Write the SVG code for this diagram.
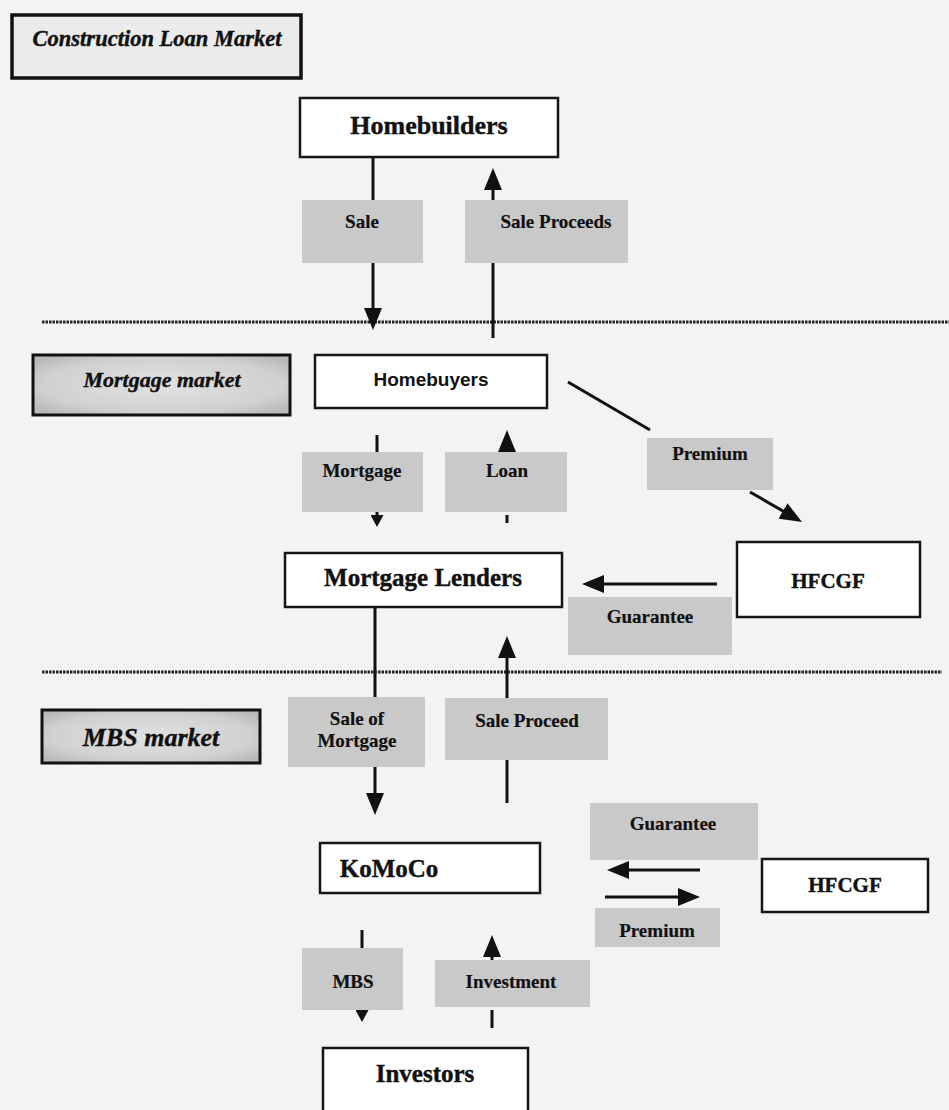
<svg xmlns="http://www.w3.org/2000/svg" width="949" height="1110" viewBox="0 0 949 1110">
<defs>
<radialGradient id="mkt" cx="50%" cy="50%" r="62%">
<stop offset="0" stop-color="#e2e2e2"/>
<stop offset="0.75" stop-color="#d0d0d0"/>
<stop offset="1" stop-color="#bababa"/>
</radialGradient>
<marker id="ah" markerUnits="userSpaceOnUse" markerWidth="22" markerHeight="18" refX="4" refY="9" orient="auto">
<path d="M0,0 L22,9 L0,18 z" fill="#111"/>
</marker>
<marker id="ahs" markerUnits="userSpaceOnUse" markerWidth="12" markerHeight="13" refX="2" refY="6.5" orient="auto">
<path d="M0,0 L12,6.5 L0,13 z" fill="#111"/>
</marker>
</defs>
<style>
.bg{fill:#f3f3f3}
.mkt{fill:url(#mkt);stroke:#111;stroke-width:3}
.node{fill:#fff;stroke:#151515;stroke-width:2.5}
.lbl{fill:#c9c9c9}
.sep{stroke:#222;stroke-width:3;stroke-dasharray:2.5 1;fill:none}
.ln{stroke:#111;stroke-width:3;fill:none}
.ar{stroke:#111;stroke-width:3;fill:none;marker-end:url(#ah)}
.ars{stroke:#111;stroke-width:3;fill:none;marker-end:url(#ahs)}
.mt{font-family:"Liberation Serif","Times New Roman",serif;font-weight:bold;font-style:italic;fill:#111;stroke:#111;stroke-width:0.4;text-anchor:middle}
.nt{font-family:"Liberation Serif","Times New Roman",serif;font-weight:bold;fill:#111;stroke:#111;stroke-width:0.4;text-anchor:middle}
.st{font-family:"Liberation Sans",Arial,sans-serif;font-weight:bold;fill:#111;text-anchor:middle}
.lt{font-family:"Liberation Serif","Times New Roman",serif;font-weight:bold;font-size:19px;fill:#111;stroke:#111;stroke-width:0.2;text-anchor:middle}
</style>
<rect class="bg" x="0" y="0" width="949" height="1110"/>

<g id="separators">
<line class="sep" x1="42" y1="322" x2="949" y2="322"/>
<line class="sep" x1="42" y1="672" x2="942" y2="672"/>
</g>

<g id="market-construction">
<rect x="12" y="15" width="289" height="63" fill="#ebebeb" stroke="#111" stroke-width="3.5"/>
<text class="mt" x="157" y="46" font-size="22.5px">Construction Loan Market</text>
</g>
<g id="market-mortgage">
<rect class="mkt" x="33" y="355" width="257" height="60"/>
<text class="mt" x="162" y="387" font-size="22px">Mortgage market</text>
</g>
<g id="market-mbs">
<rect class="mkt" x="42" y="710" width="218" height="53"/>
<text class="mt" x="151" y="746" font-size="26px">MBS market</text>
</g>

<g id="connectors">
<line class="ln" x1="373" y1="157" x2="373" y2="200"/>
<line class="ar" x1="373" y1="263" x2="373" y2="312"/>
<line class="ln" x1="493" y1="338" x2="493" y2="263"/>
<line class="ar" x1="493" y1="200" x2="493" y2="186"/>
<line class="ln" x1="377" y1="435" x2="377" y2="452"/>
<line class="ars" x1="377" y1="512" x2="377" y2="517"/>
<line class="ar" x1="507" y1="452" x2="507" y2="448"/>
<line class="ln" x1="507" y1="515" x2="507" y2="523"/>
<line class="ln" x1="568" y1="382" x2="650" y2="430"/>
<line class="ar" x1="750" y1="492" x2="786.4" y2="513"/>
<line class="ar" x1="717" y1="584" x2="600" y2="584"/>
<line class="ln" x1="375" y1="607" x2="375" y2="697"/>
<line class="ar" x1="375" y1="767" x2="375" y2="797"/>
<line class="ln" x1="507" y1="803" x2="507" y2="760"/>
<line class="ar" x1="507" y1="698" x2="507" y2="654"/>
<line class="ln" x1="362" y1="930" x2="362" y2="948"/>
<line class="ars" x1="362" y1="1008" x2="362" y2="1012"/>
<line class="ar" x1="492" y1="960" x2="492" y2="953"/>
<line class="ln" x1="492" y1="1010" x2="492" y2="1028"/>
<line class="ar" x1="700" y1="870" x2="625" y2="870"/>
<line class="ar" x1="605" y1="897" x2="682" y2="897"/>
</g>

<g id="label-sale"><rect class="lbl" x="302" y="200" width="121" height="63"/><text class="lt" x="362" y="228">Sale</text></g>
<g id="label-sale-proceeds"><rect class="lbl" x="465" y="200" width="163" height="63"/><text class="lt" x="556" y="228">Sale Proceeds</text></g>
<g id="label-mortgage"><rect class="lbl" x="302" y="452" width="121" height="60"/><text class="lt" x="362" y="477">Mortgage</text></g>
<g id="label-loan"><rect class="lbl" x="445" y="452" width="122" height="60"/><text class="lt" x="507" y="477">Loan</text></g>
<g id="label-premium-1"><rect class="lbl" x="647" y="438" width="126" height="52"/><text class="lt" x="710" y="460" font-size="18px">Premium</text></g>
<g id="label-guarantee-1"><rect class="lbl" x="568" y="597" width="164" height="58"/><text class="lt" x="650" y="623" font-size="18px">Guarantee</text></g>
<g id="label-sale-of-mortgage"><rect class="lbl" x="288" y="697" width="137" height="70"/><text class="lt" x="357" y="725">Sale of</text><text class="lt" x="357" y="747">Mortgage</text></g>
<g id="label-sale-proceed"><rect class="lbl" x="445" y="698" width="163" height="62"/><text class="lt" x="527" y="727">Sale Proceed</text></g>
<g id="label-guarantee-2"><rect class="lbl" x="590" y="803" width="168" height="57"/><text class="lt" x="673" y="830" font-size="18px">Guarantee</text></g>
<g id="label-premium-2"><rect class="lbl" x="595" y="908" width="125" height="39"/><text class="lt" x="657" y="937" font-size="18px">Premium</text></g>
<g id="label-mbs"><rect class="lbl" x="302" y="948" width="101" height="62"/><text class="lt" x="353" y="988" font-size="20px">MBS</text></g>
<g id="label-investment"><rect class="lbl" x="435" y="960" width="155" height="47"/><text class="lt" x="511" y="988">Investment</text></g>

<g id="node-homebuilders"><rect class="node" x="300" y="98" width="258" height="59"/><text class="nt" x="429" y="134" font-size="26px">Homebuilders</text></g>
<g id="node-homebuyers"><rect class="node" x="315" y="355" width="232" height="53"/><text class="st" x="431" y="386" font-size="19px">Homebuyers</text></g>
<g id="node-mortgage-lenders"><rect class="node" x="285" y="553" width="277" height="54"/><text class="nt" x="423" y="586" font-size="25px">Mortgage Lenders</text></g>
<g id="node-hfcgf-1"><rect class="node" x="737" y="542" width="183" height="75"/><text class="nt" x="828" y="588" font-size="21px">HFCGF</text></g>
<g id="node-komoco"><rect class="node" x="320" y="843" width="220" height="50"/><text class="nt" x="389" y="877" font-size="25px">KoMoCo</text></g>
<g id="node-hfcgf-2"><rect class="node" x="762" y="859" width="166" height="53"/><text class="nt" x="845" y="892" font-size="21px">HFCGF</text></g>
<g id="node-investors"><rect class="node" x="323" y="1048" width="205" height="70"/><text class="nt" x="425" y="1082" font-size="25px">Investors</text></g>
</svg>
